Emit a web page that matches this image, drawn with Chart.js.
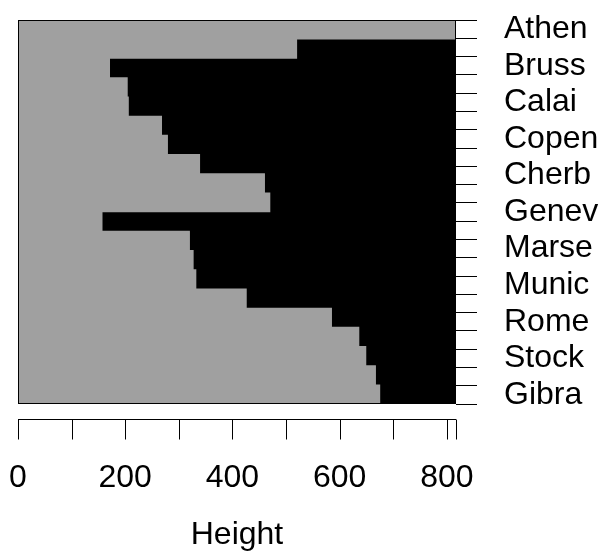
<!DOCTYPE html>
<html>
<head>
<meta charset="utf-8">
<script src="https://cdn.jsdelivr.net/npm/chart.js@4/dist/chart.umd.min.js"></script>
<style>
  body { margin: 0; background: #fff; }
  #wrap { width: 602px; height: 554px; }
</style>
</head>
<body>
<div id="wrap"><canvas id="banner"></canvas></div>
<script>
// banner rows, top to bottom: height at which the gap below each object closes
const mergeHeight = [817, 520, 171, 204, 206, 268, 279, 339, 460, 470,
                     157, 320, 327, 332, 426, 585, 636, 649, 667, 675];
const maxHeight = 817;
// object names that R had room to print (every other object)
const cityLabels = ['Athen', 'Bruss', 'Calai', 'Copen', 'Cherb', 'Genev',
                    'Marse', 'Munic', 'Rome', 'Stock', 'Gibra'];
const heightTicks = [0, 100, 200, 300, 400, 500, 600, 700, 800, 817];
const heightLabels = [0, 200, 400, 600, 800];

const rows = mergeHeight.map((h, i) => i);
const objectTicks = [];
for (let i = 0; i <= mergeHeight.length; i++) objectTicks.push(i);

Chart.defaults.font.family = '"Liberation Sans", Arial, sans-serif';
Chart.defaults.font.size = 32;
Chart.defaults.color = '#000';

// scales must not push the plot box in; the box is placed by layout.padding
function noPadding(s) {
  s.paddingLeft = s.paddingRight = s.paddingTop = s.paddingBottom = 0;
}

// box round the plot and the detached R style x axis
const rBox = {
  id: 'rBox',
  afterDraw(chart) {
    const ctx = chart.ctx;
    const a = chart.chartArea;
    const x = chart.scales.x;
    ctx.save();
    ctx.strokeStyle = '#000';
    ctx.lineWidth = 1;
    ctx.strokeRect(a.left + 0.5, a.top + 0.5, a.right - a.left - 1, a.bottom - a.top - 1);
    const yAxis = x.top + 15.5;
    ctx.beginPath();
    ctx.moveTo(x.getPixelForValue(0), yAxis);
    ctx.lineTo(x.getPixelForValue(maxHeight), yAxis);
    x.ticks.forEach(t => {
      const px = Math.round(x.getPixelForValue(t.value)) + 0.5;
      ctx.moveTo(px, yAxis);
      ctx.lineTo(px, yAxis + 20);
    });
    ctx.stroke();
    ctx.restore();
  }
};

new Chart(document.getElementById('banner'), {
  type: 'bar',
  data: {
    labels: rows,
    datasets: [
      {
        data: mergeHeight.map(h => [0, h]),
        backgroundColor: '#a0a0a0',
        borderWidth: 0
      },
      {
        data: mergeHeight.map(h => [h, maxHeight]),
        backgroundColor: '#000',
        borderWidth: 0
      }
    ]
  },
  options: {
    indexAxis: 'y',
    responsive: true,
    maintainAspectRatio: false,
    animation: false,
    layout: { padding: { left: 18, top: 20, right: 0, bottom: 0 } },
    datasets: { bar: { barPercentage: 1, categoryPercentage: 1, grouped: false } },
    plugins: { legend: { display: false }, tooltip: { enabled: false } },
    scales: {
      y: { display: false, afterFit: noPadding },
      x: {
        type: 'linear',
        position: 'bottom',
        min: 0,
        max: maxHeight,
        afterBuildTicks: s => { s.ticks = heightTicks.map(v => ({ value: v })); },
        afterFit: s => { s.height = 150; noPadding(s); },
        grid: { display: false, drawTicks: false },
        border: { display: false },
        ticks: {
          autoSkip: false,
          maxRotation: 0,
          padding: 55,
          callback: v => heightLabels.includes(v) ? String(v) : ''
        },
        title: { display: true, text: 'Height', padding: { top: 0, bottom: 0 } }
      },
      objects: {
        type: 'linear',
        position: 'right',
        min: 0,
        max: mergeHeight.length,
        reverse: true,
        afterBuildTicks: s => { s.ticks = objectTicks.map(v => ({ value: v })); },
        afterFit: s => { s.width = 146; noPadding(s); },
        grid: { drawOnChartArea: false, tickLength: 21, tickColor: '#000', tickWidth: 1 },
        border: { display: false },
        ticks: {
          autoSkip: false,
          padding: 27,
          callback: (v, i) => i % 2 === 0 ? cityLabels[i / 2] : ''
        }
      }
    }
  },
  plugins: [rBox]
});
</script>
</body>
</html>
